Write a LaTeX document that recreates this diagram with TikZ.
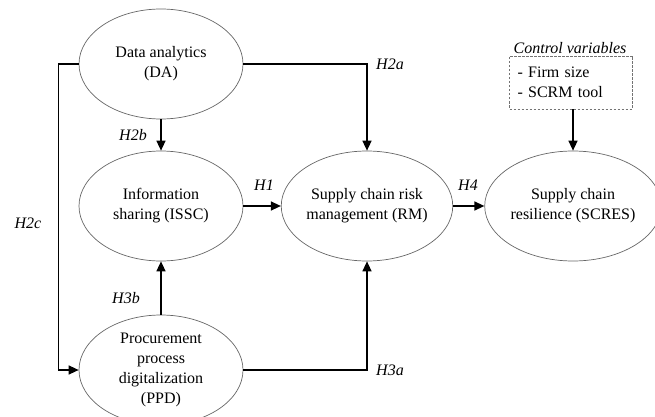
\documentclass[tikz,border=0pt]{standalone}
\usepackage{fontspec}
\setmainfont{Liberation Serif}
\usetikzlibrary{shapes.geometric,arrows.meta}
\begin{document}
\begin{tikzpicture}[x=1pt,y=-1pt,
  var/.style={ellipse,draw=black!60,line width=0.7pt,minimum width=164pt,minimum height=110pt,inner sep=0pt,align=center,font=\fontsize{16}{20}\selectfont},
  conn/.style={line width=1.4pt,-{Triangle[length=10pt,width=9pt]}},
  hyp/.style={font=\fontsize{16}{20}\selectfont\itshape,inner sep=0pt},
  ctrl/.style={draw=black!55,line width=0.7pt,dash pattern=on 2.5pt off 1.5pt,minimum width=123pt,minimum height=53pt,text width=107pt,inner xsep=8pt,inner ysep=0pt,align=left,font=\fontsize{16}{20}\selectfont}
  ]
\useasboundingbox (0,0) rectangle (655,417);
\node[var] (DA) at (161,64) {Data analytics\\(DA)};
\node[var] (ISSC) at (161,206) {Information\\sharing (ISSC)};
\node[var] (RM) at (367,206) {Supply chain risk\\management (RM)};
\node[var] (SCRES) at (573,206) {Supply chain\\resilience (SCRES)};
\node[var] (PPD) at (161,370) {Procurement\\process\\digitalization\\(PPD)};
\node[ctrl] (CV) at (571,82.5) {- Firm size\\- SCRM tool};
\node[hyp] (CVlab) at (570,48) {Control variables};

\draw[conn] (DA.west) -- ++(-20,0) |- (PPD.west);
\draw[conn] (DA.east) -| (RM.north);
\draw[conn] (DA.south) -- (ISSC.north);
\draw[conn] (ISSC.east) -- (RM.west);
\draw[conn] (RM.east) -- (SCRES.west);
\draw[conn] (PPD.north) -- (ISSC.south);
\draw[conn] (PPD.east) -| (RM.south);
\draw[conn] (CV.south -| SCRES.north) -- (SCRES.north);

\node[hyp] (h2c) at (28,223) {H2c};
\node[hyp,anchor=west] (h2a) at (376,64) {H2a};
\node[hyp] (h2b) at (133,135) {H2b};
\node[hyp] (h1) at (264,185) {H1};
\node[hyp] (h4) at (468,185) {H4};
\node[hyp] (h3b) at (126,298) {H3b};
\node[hyp,anchor=west] (h3a) at (376,370) {H3a};
\end{tikzpicture}
\end{document}
